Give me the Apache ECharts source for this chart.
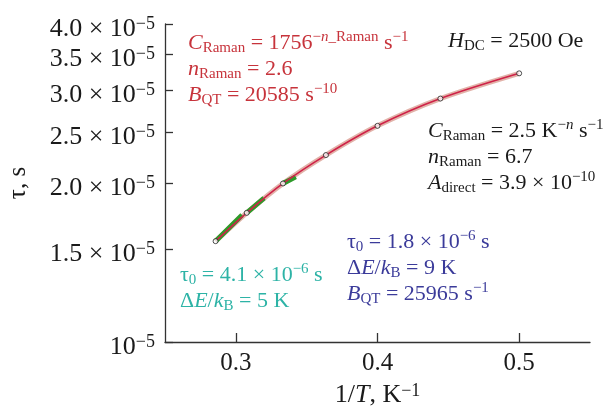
<!DOCTYPE html>
<html>
<head>
<meta charset="utf-8">
<script src="https://cdn.jsdelivr.net/npm/echarts@6/dist/echarts.min.js"></script>
<style>
  html, body { margin: 0; padding: 0; background: #fff; }
  #tau { width: 605px; height: 407px; }
</style>
</head>
<body>
<div id="tau"></div>
<script>
// measured points, 1/T (K^-1) and tau (s)
var invT = [0.2857, 0.3077, 0.3333, 0.3636, 0.4, 0.4444, 0.5];
var tau = [1.552e-5, 1.756e-5, 1.996e-5, 2.259e-5, 2.566e-5, 2.890e-5, 3.226e-5];

// short green (Arrhenius) pieces, start/end pairs split by null
var greenX = [0.2857, 0.3044, null, 0.3077, 0.3199, null, 0.3333, 0.3423];
var greenY = [1.552e-5, 1.739e-5, null, 1.756e-5, 1.872e-5, null, 1.996e-5, 2.054e-5];

// axis ticks
var xTicks = [0.3, 0.4, 0.5];
var yTicks = [1e-5, 1.5e-5, 2e-5, 2.5e-5, 3e-5, 3.5e-5, 4e-5];
var yTickText = ['', '1.5', '2.0', '2.5', '3.0', '3.5', '4.0'];

var serif = '"Liberation Serif", "DejaVu Serif", serif';
var red = '#c7333b', black = '#1a1a1a', blue = '#3b3b9a', teal = '#2db3a6';

function richFor(color, size) {
    var small = Math.round(size * 0.68);
    var base = {fill: color, color: color, fontFamily: serif, fontSize: size, lineHeight: 26};
    return {
        n: base,
        i: Object.assign({}, base, {fontStyle: 'italic'}),
        sub: {fill: color, color: color, fontFamily: serif, fontSize: small, lineHeight: small + 3, verticalAlign: 'bottom'},
        sup: {fill: color, color: color, fontFamily: serif, fontSize: small, lineHeight: small, verticalAlign: 'top'},
        supi: {fill: color, color: color, fontFamily: serif, fontSize: small, lineHeight: small, verticalAlign: 'top', fontStyle: 'italic'}
    };
}

function pairs(xs, ys) {
    return xs.map(function (x, k) { return x === null ? null : [x, ys[k]]; });
}

function note(x, y, color, text) {
    return {
        type: 'text', left: x, top: y, z: 10,
        style: {text: text, rich: richFor(color, 22), fill: color, font: '22px ' + serif}
    };
}

var chart = echarts.init(document.getElementById('tau'));

var option = {
    animation: false,
    grid: {left: 165, right: 15, top: 24, bottom: 65, containLabel: false, outerBoundsMode: 'none'},
    xAxis: {
        type: 'value', min: 0.25, max: 0.55,
        name: '{n|1/}{i|T}{n|, K}{sup|−1}',
        nameLocation: 'middle', nameGap: 40,
        nameTextStyle: {rich: richFor(black, 26)},
        axisLine: {lineStyle: {color: '#333', width: 1.3}},
        axisTick: {inside: true, length: 9, customValues: xTicks, lineStyle: {color: '#333', width: 1.3}},
        axisLabel: {
            customValues: xTicks, margin: 9, color: black,
            fontFamily: serif, fontSize: 25,
            formatter: function (v) { return v.toFixed(1); }
        },
        splitLine: {show: false}
    },
    yAxis: {
        type: 'log', logBase: 10, min: 1e-5, max: 4e-5,
        name: '{n|τ, s}',
        nameLocation: 'middle', nameGap: 134, nameRotate: 90,
        nameTextStyle: {rich: richFor(black, 25)},
        axisLine: {lineStyle: {color: '#333', width: 1.3}},
        axisTick: {inside: true, length: 8, customValues: yTicks, lineStyle: {color: '#333', width: 1.3}},
        axisLabel: {
            customValues: yTicks, margin: 10, padding: [10, 0, 0, 0],
            rich: {
                n: {color: black, fontFamily: serif, fontSize: 26, lineHeight: 28},
                sup: {color: black, fontFamily: serif, fontSize: 18, lineHeight: 18, verticalAlign: 'top'}
            },
            formatter: function (v) {
                var k = 0, best = 1;
                yTicks.forEach(function (t, j) {
                    var d = Math.abs(t - v) / t;
                    if (d < best) { best = d; k = j; }
                });
                var head = yTickText[k] ? yTickText[k] + ' × ' : '';
                return '{n|' + head + '10}{sup|−5}';
            }
        },
        splitLine: {show: false}
    },
    series: [
        {
            name: 'fit band', type: 'line', data: pairs(invT, tau), smooth: 0.3,
            symbol: 'none', lineStyle: {color: 'rgba(214,146,132,0.7)', width: 5}, z: 2
        },
        {
            name: 'Arrhenius', type: 'line', data: pairs(greenX, greenY), connectNulls: false,
            symbol: 'none', lineStyle: {color: '#2f9a2a', width: 5}, z: 3
        },
        {
            name: 'fit', type: 'line', data: pairs(invT, tau), smooth: 0.3,
            symbol: 'none', lineStyle: {color: '#cf2248', width: 1.6}, z: 4
        },
        {
            name: 'tau', type: 'scatter', data: pairs(invT, tau),
            symbol: 'circle', symbolSize: 5,
            itemStyle: {color: '#fff', borderColor: '#222', borderWidth: 1}, z: 5
        }
    ],
    graphic: [
        note(188, 30, red,
            '{i|C}{sub|Raman}{n| = 1756}{sup|−}{supi|n}{sup|_Raman}{n| s}{sup|−1}\n' +
            '{i|n}{sub|Raman}{n| = 2.6}\n' +
            '{i|B}{sub|QT}{n| = 20585 s}{sup|−10}'),
        note(448, 30, black, '{i|H}{sub|DC}{n| = 2500 Oe}'),
        note(428, 118, black,
            '{i|C}{sub|Raman}{n| = 2.5 K}{sup|−}{supi|n}{n| s}{sup|−1}\n' +
            '{i|n}{sub|Raman}{n| = 6.7}\n' +
            '{i|A}{sub|direct}{n| = 3.9 × 10}{sup|−10}'),
        note(347, 229, blue,
            '{n|τ}{sub|0}{n| = 1.8 × 10}{sup|−6}{n| s}\n' +
            '{n|Δ}{i|E}{n|/}{i|k}{sub|B}{n| = 9 K}\n' +
            '{i|B}{sub|QT}{n| = 25965 s}{sup|−1}'),
        note(180, 262, teal,
            '{n|τ}{sub|0}{n| = 4.1 × 10}{sup|−6}{n| s}\n' +
            '{n|Δ}{i|E}{n|/}{i|k}{sub|B}{n| = 5 K}')
    ]
};

if (option && typeof option === "object") {
    chart.setOption(option, true);
}
</script>
</body>
</html>
